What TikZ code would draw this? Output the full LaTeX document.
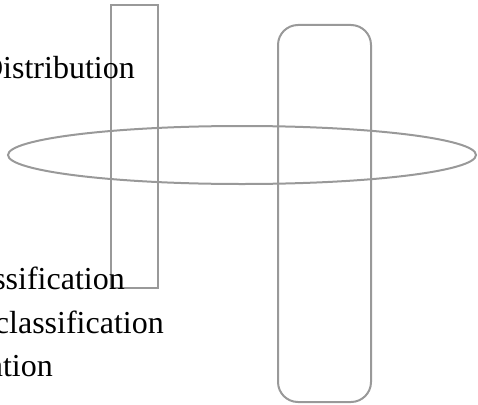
\documentclass[tikz,border=0pt]{standalone}
\usepackage{fontspec}
\setmainfont{Liberation Serif}
\usetikzlibrary{positioning,shapes.geometric}
\definecolor{setline}{HTML}{999999}

\begin{document}
\begin{tikzpicture}[x=1pt,y=-1pt,
    setbox/.style={draw=setline,line width=2pt,inner sep=0pt},
    lbl/.style={inner sep=0pt,anchor=base east,font=\fontsize{32}{43}\selectfont}]
  \useasboundingbox (0,0) rectangle (478,404);
  \clip (0,0) rectangle (478,404);
  % the three sets
  \node[setbox,rectangle,minimum width=47pt,minimum height=283pt] (bar) at (134.5,146.5) {};
  \node[setbox,rectangle,rounded corners=20pt,minimum width=93pt,minimum height=377pt] (pill) at (324.5,213.5) {};
  \node[setbox,ellipse,minimum width=468pt,minimum height=58pt] (disc) at (242,155) {};
  % labels, cut at the left edge
  \node[lbl] (dist) at (135,78) {Distribution};
  \node[lbl] (scls) at (125,289) {ssification};
  \node[lbl] (ccls) at (164,333) {classification};
  \node[lbl] (atn) at (53,376) {ation};
\end{tikzpicture}
\end{document}
